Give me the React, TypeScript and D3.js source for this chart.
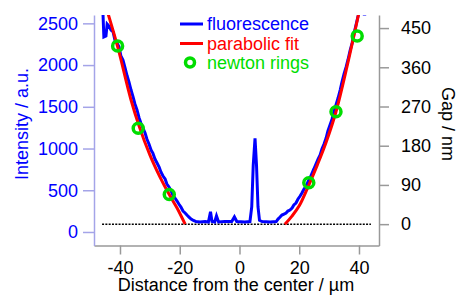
import React, { useEffect, useRef } from 'react'
import * as d3 from 'd3'

// tick values
const distTicks = [-40, -20, 0, 20, 40]
const intensityTicks = [0, 500, 1000, 1500, 2000, 2500]
const gapTicks = [0, 90, 180, 270, 360, 450]

// fluorescence profile: [distance (um), intensity (a.u.)]
const fluorescence: [number, number][] = [
  [-46.0, 2720], [-45.7, 2624], [-45.4, 2336], [-44.7, 2348], [-44.3, 2492], [-43.7, 2468],
  [-43.0, 2420], [-42.3, 2396], [-41.7, 2300], [-41.0, 2264], [-40.3, 2217], [-39.7, 2109],
  [-39.0, 2061], [-38.3, 1965], [-37.6, 1869], [-37.0, 1797], [-36.3, 1701], [-35.6, 1617],
  [-35.0, 1534], [-34.3, 1462], [-33.6, 1366], [-33.0, 1306], [-32.3, 1246], [-31.6, 1186],
  [-31.0, 1114], [-30.3, 1054], [-29.6, 982], [-29.0, 946], [-28.3, 874], [-27.6, 826],
  [-26.9, 778], [-26.3, 719], [-25.6, 671], [-24.9, 635], [-24.3, 575], [-23.6, 539],
  [-22.9, 491], [-22.3, 443], [-21.6, 407], [-20.9, 371], [-20.3, 335], [-19.6, 299],
  [-18.9, 251], [-18.2, 227], [-17.6, 203], [-16.9, 179], [-16.2, 155], [-15.6, 143],
  [-14.9, 131], [-14.6, 125], [-13.2, 120], [-11.5, 125], [-10.4, 120], [-9.7, 243],
  [-9.2, 125], [-8.3, 120], [-7.7, 192], [-7.0, 120], [-4.9, 125], [-2.6, 125],
  [-1.7, 180], [-0.9, 125], [1.8, 120], [3.5, 125], [4.1, 300], [4.6, 800],
  [5.2, 1122], [5.7, 800], [6.2, 300], [6.7, 140], [7.6, 125], [10.3, 120],
  [12.3, 125], [12.9, 155], [13.6, 179], [14.2, 203], [14.9, 215], [15.6, 227],
  [16.2, 251], [16.9, 263], [17.6, 287], [18.2, 323], [18.9, 347], [19.6, 395],
  [20.3, 431], [20.9, 467], [21.6, 515], [22.3, 551], [22.9, 599], [23.6, 647],
  [24.3, 707], [24.9, 755], [25.6, 815], [26.3, 874], [27.0, 922], [27.6, 994],
  [28.3, 1054], [29.0, 1126], [29.6, 1210], [30.3, 1282], [31.0, 1354], [31.6, 1438],
  [32.3, 1522], [33.0, 1605], [33.7, 1701], [34.3, 1797], [35.0, 1893], [35.7, 1977],
  [36.3, 2061], [37.0, 2169], [37.7, 2264], [38.3, 2372], [39.0, 2480], [39.7, 2588],
  [40.0, 2660], [40.7, 2720], [41.0, 2720], [41.7, 2612], [42.0, 2612], [42.7, 2720],
]

// parabolic fit: [distance (um), gap (nm)]
const fitLeft: [number, number][] = [
  [-44.3, 490], [-40.7, 405], [-36.3, 285], [-33.6, 225], [-30.0, 159],
  [-26.6, 108], [-23.6, 69], [-20.9, 37], [-18.2, 0],
]
const fitRight: [number, number][] = [
  [15.2, 0], [17.5, 18], [20.0, 42], [23.1, 88], [26.0, 135],
  [29.0, 188], [32.3, 258], [36.0, 362], [40.0, 486],
]

// newton rings
const ringDist = [-40.8, -33.9, -23.5, 23.2, 32.3, 39.4]
const ringGap = [409, 220, 68, 95, 258, 432]

// zero-gap reference line
const zeroLineDist = [-46, 44]

const legendLabels = ['fluorescence', 'parabolic fit', 'newton rings']

const BLUE = '#0000ff'
const RED = '#ff0000'
const GREEN = '#00dd00'
const FONT = '"Liberation Sans", Arial, Helvetica, sans-serif'

function App() {
  const ref = useRef<SVGSVGElement>(null)

  useEffect(() => {
    const svg = d3.select(ref.current)
    svg.selectAll('*').remove()

    const left = 94, right = 379, top = 15, bottom = 245.5

    const x = d3.scaleLinear().domain([-48.7, 46.7]).range([left, right])
    const yI = d3.scaleLinear().domain([-162, 2600]).range([bottom, top])
    const yG = d3.scaleLinear().domain([-49, 480]).range([bottom, top])

    svg.append('defs').append('clipPath').attr('id', 'plotclip')
      .append('rect')
      .attr('x', left).attr('y', top)
      .attr('width', right - left).attr('height', bottom - top)

    const fmt = (d: any) => String(d)

    // axes
    const axB = svg.append('g')
      .attr('transform', 'translate(0,' + bottom + ')')
      .call(d3.axisBottom(x).tickValues(distTicks).tickSize(9).tickSizeOuter(0).tickPadding(6.5)
        .tickFormat(fmt))
    axB.select('.domain').attr('stroke', '#999').attr('stroke-width', 1.5)
    axB.selectAll('.tick line').attr('stroke', '#999').attr('stroke-width', 1.5)
    axB.selectAll('.tick text').attr('fill', '#000')

    const axL = svg.append('g')
      .attr('transform', 'translate(' + left + ',0)')
      .call(d3.axisLeft(yI).tickValues(intensityTicks).tickSize(11).tickSizeOuter(0).tickPadding(5)
        .tickFormat(fmt))
    axL.select('.domain').attr('stroke', '#a4a4e8').attr('stroke-width', 1.5)
    axL.selectAll('.tick line').attr('stroke', '#a4a4e8').attr('stroke-width', 1.5)
    axL.selectAll('.tick text').attr('fill', BLUE)

    const axR = svg.append('g')
      .attr('transform', 'translate(' + right + ',0)')
      .call(d3.axisRight(yG).tickValues(gapTicks).tickSize(10).tickSizeOuter(0).tickPadding(12)
        .tickFormat(fmt))
    axR.select('.domain').attr('stroke', '#999').attr('stroke-width', 1.5)
    axR.selectAll('.tick line').attr('stroke', '#999').attr('stroke-width', 1.5)
    axR.selectAll('.tick text').attr('fill', '#000')

    svg.selectAll('.tick text')
      .style('font-family', FONT)
      .style('font-size', '18px')

    // axis titles
    svg.append('text')
      .attr('x', 236).attr('y', 290.5)
      .attr('text-anchor', 'middle')
      .style('font-family', FONT).style('font-size', '18px')
      .attr('fill', '#000')
      .text('Distance from the center / µm')

    svg.append('text')
      .attr('transform', 'translate(27.5,124) rotate(-90)')
      .attr('text-anchor', 'middle')
      .style('font-family', FONT).style('font-size', '18px')
      .attr('fill', BLUE)
      .text('Intensity / a.u.')

    svg.append('text')
      .attr('transform', 'translate(441.5,124) rotate(90)')
      .attr('text-anchor', 'middle')
      .style('font-family', FONT).style('font-size', '18px')
      .attr('fill', '#000')
      .text('Gap / nm')

    const plot = svg.append('g').attr('clip-path', 'url(#plotclip)')

    // zero gap dotted line
    plot.append('line')
      .attr('x1', x(zeroLineDist[0])).attr('x2', x(zeroLineDist[1]))
      .attr('y1', yG(0)).attr('y2', yG(0))
      .attr('stroke', '#000')
      .attr('stroke-width', 1.5)
      .attr('stroke-dasharray', '2,1.3')

    const fluorLine = d3.line<[number, number]>()
      .x(d => x(d[0]))
      .y(d => yI(d[1]))

    plot.append('path')
      .datum(fluorescence)
      .attr('d', fluorLine)
      .attr('fill', 'none')
      .attr('stroke', BLUE)
      .attr('stroke-width', 3)

    const fitLine = d3.line<[number, number]>()
      .x(d => x(d[0]))
      .y(d => yG(d[1]))
      .curve(d3.curveMonotoneX)

    plot.selectAll('path.fit')
      .data([fitLeft, fitRight])
      .enter()
      .append('path')
      .attr('class', 'fit')
      .attr('d', d => fitLine(d))
      .attr('fill', 'none')
      .attr('stroke', RED)
      .attr('stroke-width', 3)

    plot.selectAll('circle.ring')
      .data(ringDist)
      .enter()
      .append('circle')
      .attr('class', 'ring')
      .attr('cx', d => x(d))
      .attr('cy', (d, i) => yG(ringGap[i]))
      .attr('r', 5)
      .attr('fill', 'none')
      .attr('stroke', GREEN)
      .attr('stroke-width', 3.5)

    // legend
    const legend = svg.append('g').attr('transform', 'translate(180,0)')
    const colors = [BLUE, RED, GREEN]
    legendLabels.forEach((label, i) => {
      const base = 30 + i * 19.5
      if (i < 2) {
        legend.append('line')
          .attr('x1', 0).attr('x2', 23)
          .attr('y1', base - 6).attr('y2', base - 6)
          .attr('stroke', colors[i])
          .attr('stroke-width', 3)
      } else {
        legend.append('circle')
          .attr('cx', 10).attr('cy', base - 6.5)
          .attr('r', 4.5)
          .attr('fill', 'none')
          .attr('stroke', GREEN)
          .attr('stroke-width', 3.5)
      }
      legend.append('text')
        .attr('x', 27).attr('y', base)
        .style('font-family', FONT).style('font-size', '18px')
        .attr('fill', colors[i])
        .text(label)
    })
  }, [])

  return (
    <svg
      ref={ref}
      width={456}
      height={296}
      style={{ position: 'absolute', left: 0, top: 0, background: '#fff' }}
    />
  )
}

export default App
